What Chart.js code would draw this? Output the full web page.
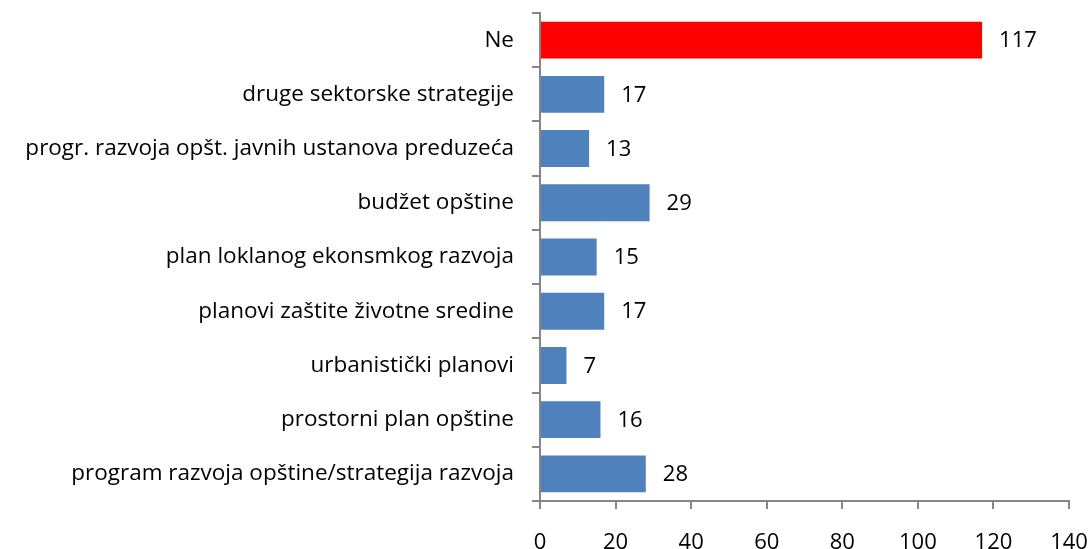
<!DOCTYPE html>
<html>
<head>
<meta charset="utf-8">
<script src="https://cdn.jsdelivr.net/npm/chart.js@4.4.0/dist/chart.umd.min.js"></script>
<style>
  html, body { margin: 0; padding: 0; background: #fff; }
  #wrap { width: 1091px; height: 549px; position: relative; }
</style>
</head>
<body>
<div id="wrap"><canvas id="plans"></canvas></div>
<script>
const categories = [
  'Ne',
  'druge sektorske strategije',
  'progr. razvoja opšt. javnih ustanova preduzeća',
  'budžet opštine',
  'plan loklanog ekonsmkog razvoja',
  'planovi zaštite životne sredine',
  'urbanistički planovi',
  'prostorni plan opštine',
  'program razvoja opštine/strategija razvoja'
];
const counts = [117, 17, 13, 29, 15, 17, 7, 16, 28];
const barColors = ['#FF0000', '#4F81BD', '#4F81BD', '#4F81BD', '#4F81BD', '#4F81BD', '#4F81BD', '#4F81BD', '#4F81BD'];
const xTickMax = 140;
const xTickStep = 20;

const fontFamily = '"Open Sans", Lato, sans-serif';

// value labels next to each bar
const valueLabels = {
  id: 'valueLabels',
  afterDatasetsDraw(chart) {
    const ctx = chart.ctx;
    const meta = chart.getDatasetMeta(0);
    ctx.save();
    ctx.font = '22px ' + fontFamily;
    ctx.fillStyle = '#000';
    ctx.textAlign = 'left';
    ctx.textBaseline = 'middle';
    meta.data.forEach((bar, i) => {
      ctx.fillText(String(counts[i]), bar.x + 17, bar.y + 1);
    });
    ctx.restore();
  }
};

const ctx = document.getElementById('plans').getContext('2d');
new Chart(ctx, {
  type: 'bar',
  data: {
    labels: categories,
    datasets: [{
      data: counts,
      backgroundColor: barColors,
      borderWidth: 0,
      categoryPercentage: 1,
      barPercentage: 0.68
    }]
  },
  options: {
    indexAxis: 'y',
    responsive: true,
    maintainAspectRatio: false,
    animation: false,
    layout: { padding: { top: 13, right: 22, left: 0, bottom: 0 } },
    plugins: {
      legend: { display: false },
      tooltip: { enabled: false }
    },
    scales: {
      x: {
        min: 0,
        max: xTickMax,
        ticks: {
          stepSize: xTickStep,
          color: '#000',
          font: { family: fontFamily, size: 22 },
          padding: 21
        },
        grid: {
          drawOnChartArea: false,
          drawTicks: true,
          tickLength: 8,
          color: '#868686',
          lineWidth: 2
        },
        border: { color: '#868686', width: 2 },
        afterFit(scale) {
          scale.height = 48;
          scale.paddingLeft = 0;
          scale.paddingRight = 0;
        }
      },
      y: {
        ticks: {
          color: '#000',
          font: { family: fontFamily, size: 22.5 },
          padding: 18
        },
        grid: {
          drawOnChartArea: false,
          drawTicks: true,
          tickLength: 8,
          color: '#868686',
          lineWidth: 2
        },
        border: { color: '#868686', width: 2 },
        afterFit(scale) {
          scale.width = 540;
          scale.paddingTop = 0;
          scale.paddingBottom = 0;
        }
      }
    }
  },
  plugins: [valueLabels]
});
</script>
</body>
</html>
